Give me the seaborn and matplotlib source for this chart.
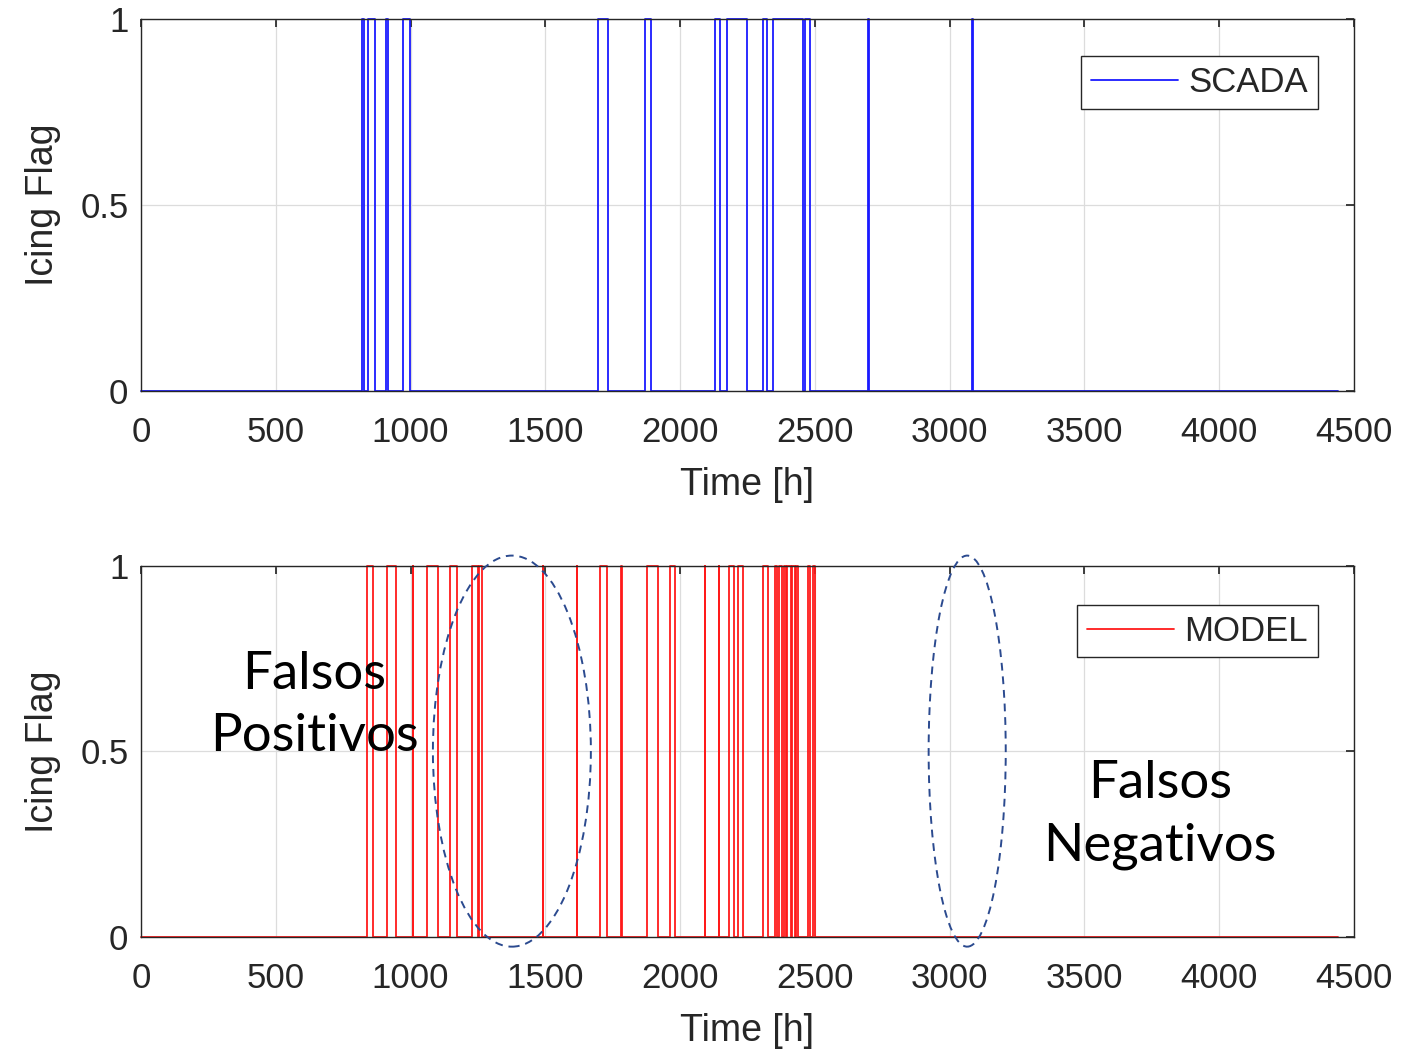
import matplotlib
matplotlib.use("Agg")
import matplotlib.pyplot as plt
import pandas as pd
import seaborn as sns
from matplotlib.patches import Ellipse

# icing pulses, hours: (start, end)
SCADA_START = [820, 842, 909, 972, 1695, 1870, 2130, 2174, 2308, 2345, 2462, 2697, 3083]
SCADA_END = [828, 868, 916, 998, 1733, 1892, 2148, 2248, 2322, 2456, 2482, 2699, 3085]

MODEL_START = [838, 913, 1009, 1061, 1146, 1228, 1255, 1491, 1617, 1703, 1781, 1877, 1963,
               2092, 2144, 2181, 2215, 2307, 2352, 2368, 2385, 2398, 2416, 2430, 2474, 2492]
MODEL_END = [860, 946, 1011, 1102, 1172, 1250, 1266, 1493, 1619, 1729, 1783, 1918, 1982,
             2094, 2146, 2200, 2233, 2326, 2360, 2378, 2392, 2410, 2425, 2437, 2482, 2500]

T_END = 4440
X_TICKS = [0, 500, 1000, 1500, 2000, 2500, 3000, 3500, 4000, 4500]
Y_TICKS = [0, 0.5, 1]
Y_TICK_LABELS = ["0", "0.5", "1"]


def step_frame(starts, ends) -> pd.DataFrame:
    t, flag = [0], [0]
    for s, e in zip(starts, ends):
        t += [s, s, e, e]
        flag += [0, 1, 1, 0]
    t.append(T_END)
    flag.append(0)
    return pd.DataFrame({"time": t, "flag": flag})


def style_axis(ax, legend_top):
    ax.set_xlim(0, 4500)
    ax.set_ylim(0, 1)
    ax.set_xticks(X_TICKS)
    ax.set_yticks(Y_TICKS)
    ax.set_yticklabels(Y_TICK_LABELS)
    ax.grid(True, color="#dcdcdc", linewidth=0.9)
    ax.set_axisbelow(True)
    ax.tick_params(direction="in", labelsize=25, top=True, right=True,
                   length=6, color="#262626", labelcolor="#262626", pad=9)
    ax.tick_params(axis="x", pad=18)
    for sp in ax.spines.values():
        sp.set_color("#262626")
        sp.set_linewidth(1.0)
    ax.set_xlabel("Time [h]", fontsize=27, color="#262626", labelpad=13)
    ax.set_ylabel("Icing Flag", fontsize=27, color="#262626", labelpad=14)
    leg = ax.legend(loc="upper right", bbox_to_anchor=(0.97, legend_top), fontsize=25,
                    handlelength=2.5, fancybox=False, framealpha=1, borderpad=0.28,
                    handletextpad=0.3, borderaxespad=0)
    leg.get_frame().set_edgecolor("#262626")
    leg.get_frame().set_linewidth(1.0)


def main() -> None:
    sns.set_theme(style="white")
    plt.rcParams["font.family"] = ["Liberation Sans", "DejaVu Sans"]

    fig = plt.figure(figsize=(14.04, 10.52), dpi=100)
    ax1 = fig.add_axes([0.1004, 0.6283, 0.864, 0.3536])
    ax2 = fig.add_axes([0.1004, 0.1093, 0.864, 0.3527])

    scada = step_frame(SCADA_START, SCADA_END)
    model = step_frame(MODEL_START, MODEL_END)

    sns.lineplot(data=scada, x="time", y="flag", ax=ax1, color="#1a1aff", linewidth=1.3,
                 estimator=None, sort=False, label="SCADA", clip_on=False)
    sns.lineplot(data=model, x="time", y="flag", ax=ax2, color="#ff1a1a", linewidth=1.3,
                 estimator=None, sort=False, label="MODEL", clip_on=False)

    style_axis(ax1, 0.90)
    style_axis(ax2, 0.895)

    for cx, w in [(1376, 586), (3065, 286)]:
        ax2.add_patch(Ellipse((cx, 0.501), w, 1.054, fill=False, edgecolor="#2b4a8f",
                              linestyle=(0, (4, 3)), linewidth=1.4, clip_on=False, zorder=5))

    ax2.text(642, 0.625, "Falsos\nPositivos", ha="center", va="center", fontsize=38,
             family=["Lato", "DejaVu Sans"], linespacing=1.4, color="black")
    ax2.text(3780, 0.329, "Falsos\nNegativos", ha="center", va="center", fontsize=38,
             family=["Lato", "DejaVu Sans"], linespacing=1.4, color="black")

    fig.savefig("out.png", dpi=100)
    plt.close(fig)


if __name__ == "__main__":
    main()
